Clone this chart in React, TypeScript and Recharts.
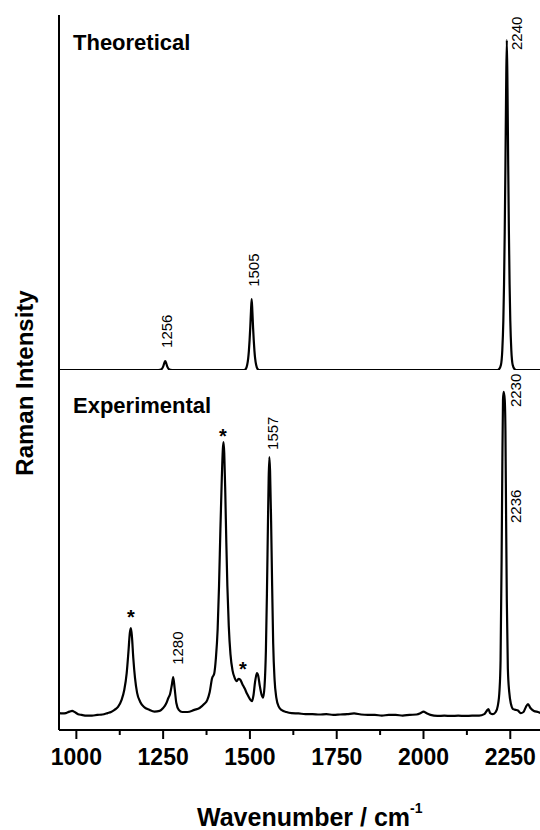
import React from "react";
import {
  ComposedChart,
  Line,
  XAxis,
  YAxis,
  ReferenceDot,
} from "recharts";

// theoretical spectrum (calculated lines)
const theoWn = [
  950, 1236, 1241, 1246, 1250, 1253, 1256, 1259, 1262, 1266, 1271, 1276,
  1483, 1488, 1492, 1495, 1497, 1499, 1501, 1503, 1505, 1507, 1509, 1511, 1513, 1515, 1518, 1522, 1527,
  2213, 2218, 2223, 2227, 2230, 2232, 2234, 2236, 2238, 2240, 2242, 2244, 2246, 2248, 2250, 2253, 2257, 2262, 2267,
  2350,
];
const theoInt = [
  0, 0, 0.05, 0.3, 1.0, 2.0, 2.7, 2.0, 1.0, 0.3, 0.05, 0,
  0, 0.3, 1.5, 3.5, 5.8, 9.0, 13, 17.8, 21.5, 17.8, 13, 9.0, 5.8, 3.5, 1.5, 0.3, 0,
  0, 0.3, 1.5, 6, 15, 26, 42, 62, 85, 100, 85, 62, 42, 26, 15, 6, 1.5, 0.3, 0,
  0,
];

// experimental spectrum
const expWn = [
  950, 960, 970, 980, 988, 995, 1005, 1015, 1030, 1045, 1060, 1075, 1090, 1100, 1110, 1120,
  1130, 1138, 1145, 1150, 1154, 1157, 1160, 1164, 1169, 1175, 1184, 1195, 1210, 1225, 1240,
  1250, 1258, 1265, 1270, 1275, 1279, 1283, 1288, 1295, 1305, 1320, 1340, 1355, 1368, 1377,
  1384, 1391, 1397, 1402, 1407, 1411, 1415, 1419, 1422, 1424, 1426, 1429, 1432, 1435, 1439,
  1444, 1450, 1456, 1462, 1467, 1472, 1478, 1485, 1492, 1500, 1506, 1510, 1515, 1520, 1524,
  1528, 1533, 1538, 1542, 1546, 1549, 1552, 1554, 1556, 1558, 1561, 1564, 1567, 1571, 1576,
  1583, 1592, 1605, 1620, 1640, 1660, 1680, 1700, 1720, 1740, 1760, 1780, 1800, 1820, 1840,
  1860, 1880, 1900, 1920, 1940, 1960, 1980, 1992, 2000, 2008, 2020, 2040, 2060, 2080, 2100,
  2120, 2140, 2160, 2175, 2182, 2187, 2192, 2200, 2208, 2214, 2219, 2222, 2225, 2227, 2229,
  2231, 2234, 2236, 2238, 2240, 2243, 2247, 2252, 2258, 2265, 2272, 2280, 2288, 2295, 2301,
  2308, 2318, 2330, 2340, 2350,
];
const expInt = [
  4.7, 4.6, 4.7, 5.1, 5.3, 5.0, 4.4, 4.2, 4.0, 4.0, 4.2, 4.3, 4.7, 5.0, 5.6, 6.4,
  8.3, 11.1, 15.8, 21.7, 26.9, 28.3, 26.1, 20, 14.4, 10.3, 7.8, 6.4, 5.6, 5.1, 5.3,
  6.1, 7.2, 8.9, 10, 12.5, 14.7, 11.7, 7.5, 5.6, 5.0, 5.0, 5.6, 6.1, 7.2, 8.3,
  10.5, 14.4, 15.6, 20, 28, 40, 56, 70, 78, 80, 77, 66, 52, 40, 29,
  21, 16.5, 14.5, 13.6, 14.2, 14, 12.8, 11.5, 10, 8.6, 8, 9.5, 13.5, 15.8, 15,
  12.5, 10, 9, 12, 22, 38, 58, 70, 75.8, 72, 58, 40, 24, 14, 9,
  6.5, 5.5, 5.0, 4.7, 4.6, 4.4, 4.4, 4.3, 4.4, 4.2, 4.3, 4.4, 4.6, 4.3, 4.2,
  4.2, 4.0, 4.2, 4.2, 4.0, 4.2, 4.3, 4.7, 5.1, 4.7, 4.2, 3.9, 4.0, 3.9, 4.0,
  3.9, 4.0, 4.0, 4.4, 5.3, 5.8, 4.7, 4.4, 5.0, 6.7, 11.1, 19.4, 47.2, 72.2, 91.7,
  93.9, 91.7, 83.3, 58.3, 36.1, 17, 10.5, 7.2, 5.8, 5.6, 5.4, 4.7, 5.0, 6.4, 7.2,
  6.1, 5.3, 5.0, 4.7, 4.7,
];

const xTicks = [1000, 1125, 1250, 1375, 1500, 1625, 1750, 1875, 2000, 2125, 2250];

// peak annotations
const theoLabelWn = [1261, 1509, 2269];
const theoLabelY = [6.7, 25.2, 97];
const theoLabelText = ["1256", "1505", "2240"];

const expLabelWn = [1290, 1564, 2264, 2264];
const expLabelY = [18.1, 77.8, 89.7, 57.5];
const expLabelText = ["1280", "1557", "2230", "2236"];

const starWn = [1157, 1422, 1480];
const starY = [32.5, 82.8, 18.1];

const theoData = theoWn.map((wn, i) => ({ wn, v: theoInt[i] }));
const expData = expWn.map((wn, i) => ({ wn, v: expInt[i] }));

const FONT = "'Liberation Sans', Arial, sans-serif";
const frameLine = { stroke: "#000", strokeWidth: 2 };

const rotatedLabel = (text: string) => (props: any) => {
  const vb = props.viewBox || {};
  const cx = vb.x + (vb.width || 0) / 2;
  const cy = vb.y + (vb.height || 0) / 2;
  return (
    <text
      x={cx}
      y={cy}
      transform={`rotate(-90 ${cx} ${cy})`}
      textAnchor="start"
      dominantBaseline="central"
      fontSize={15}
      fontFamily={FONT}
      fill="#000"
    >
      {text}
    </text>
  );
};

const starLabel = (props: any) => {
  const vb = props.viewBox || {};
  const cx = vb.x + (vb.width || 0) / 2;
  const cy = vb.y + (vb.height || 0) / 2;
  return (
    <text x={cx} y={cy + 11} textAnchor="middle" fontSize={20} fontWeight="bold" fontFamily={FONT} fill="#000">
      *
    </text>
  );
};

function WnTick({ x, y, payload }: any) {
  const major = payload.value % 250 === 0;
  return (
    <g>
      <line x1={x} x2={x} y1={y} y2={y + (major ? 9 : 5)} stroke="#000" strokeWidth={2} />
      {major && (
        <text x={x} y={y + 35} textAnchor="middle" fontSize={23} fontWeight="bold" fontFamily={FONT} fill="#000">
          {payload.value}
        </text>
      )}
    </g>
  );
}

export default function App() {
  return (
    <div
      style={{
        position: "absolute",
        left: 0,
        top: 0,
        width: 540,
        height: 830,
        overflow: "hidden",
        background: "#fff",
      }}
    >
      <div style={{ position: "absolute", left: 0, top: 0 }}>
        <ComposedChart width={560} height={370} data={theoData} margin={{ top: 15, right: 15, bottom: 0, left: 0 }}>
          <XAxis
            dataKey="wn"
            type="number"
            domain={[950, 2350]}
            orientation="top"
            height={0}
            tick={false}
            tickLine={false}
            axisLine={frameLine}
          />
          <YAxis type="number" domain={[0, 107.6]} width={59} tick={false} tickLine={false} axisLine={frameLine} />
          <Line
            type="monotone"
            dataKey="v"
            stroke="#000"
            strokeWidth={2.2}
            dot={false}
            isAnimationActive={false}
          />
          {theoLabelWn.map((wn, i) => (
            <ReferenceDot
              key={"t" + i}
              x={wn}
              y={theoLabelY[i]}
              r={0}
              fill="none"
              stroke="none"
              label={rotatedLabel(theoLabelText[i])}
            />
          ))}
        </ComposedChart>
      </div>
      <div style={{ position: "absolute", left: 0, top: 370 }}>
        <ComposedChart width={560} height={460} data={expData} margin={{ top: 0, right: 15, bottom: 0, left: 0 }}>
          <XAxis
            dataKey="wn"
            type="number"
            domain={[950, 2350]}
            ticks={xTicks}
            interval={0}
            height={100}
            tickSize={0}
            tickMargin={0}
            tickLine={false}
            tick={<WnTick />}
            axisLine={frameLine}
          />
          <YAxis type="number" domain={[0, 100]} width={59} tick={false} tickLine={false} axisLine={frameLine} />
          <Line
            type="monotone"
            dataKey="v"
            stroke="#000"
            strokeWidth={2.2}
            dot={false}
            isAnimationActive={false}
          />
          {expLabelWn.map((wn, i) => (
            <ReferenceDot
              key={"e" + i}
              x={wn}
              y={expLabelY[i]}
              r={0}
              fill="none"
              stroke="none"
              label={rotatedLabel(expLabelText[i])}
            />
          ))}
          {starWn.map((wn, i) => (
            <ReferenceDot key={"s" + i} x={wn} y={starY[i]} r={0} fill="none" stroke="none" label={starLabel} />
          ))}
        </ComposedChart>
      </div>
      <svg
        width={540}
        height={830}
        style={{ position: "absolute", left: 0, top: 0, pointerEvents: "none" }}
        fontFamily={FONT}
        fontWeight="bold"
      >
        <text x={73} y={50} fontSize={22}>Theoretical</text>
        <text x={73} y={413} fontSize={22}>Experimental</text>
        <text x={33} y={383} fontSize={24} textAnchor="middle" transform="rotate(-90 33 383)">
          Raman Intensity
        </text>
        <text x={197} y={826} fontSize={25}>
          Wavenumber / cm
          <tspan fontSize={14} dy={-13}>-1</tspan>
        </text>
      </svg>
    </div>
  );
}
